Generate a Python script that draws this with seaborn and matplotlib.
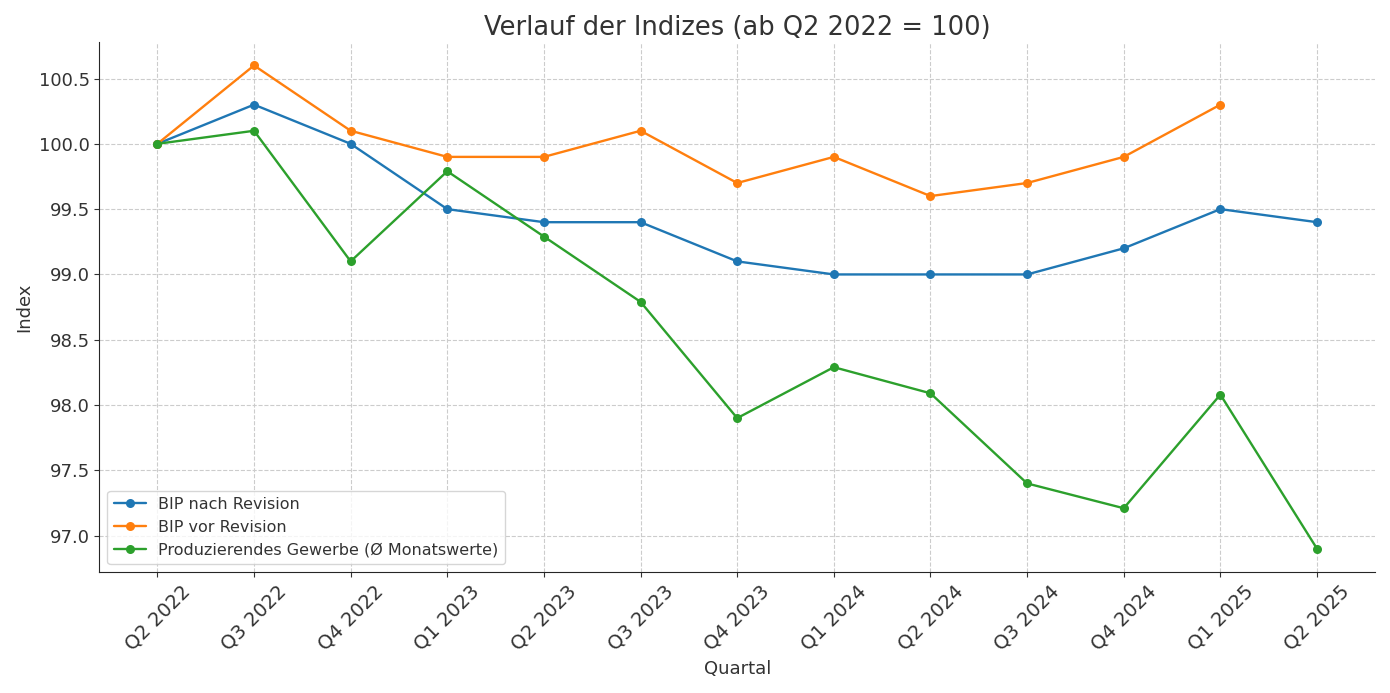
import pandas as pd
import numpy as np
import matplotlib
matplotlib.use("Agg")
import matplotlib.pyplot as plt
import seaborn as sns

# Daten
quartale = ["Q2 2022", "Q3 2022", "Q4 2022", "Q1 2023", "Q2 2023", "Q3 2023", "Q4 2023",
            "Q1 2024", "Q2 2024", "Q3 2024", "Q4 2024", "Q1 2025", "Q2 2025"]
bip_nach = [100.0, 100.3, 100.0, 99.5, 99.4, 99.4, 99.1, 99.0, 99.0, 99.0, 99.2, 99.5, 99.4]
bip_vor = [100.0, 100.6, 100.1, 99.9, 99.9, 100.1, 99.7, 99.9, 99.6, 99.7, 99.9, 100.3, np.nan]
prod_gewerbe = [100.0, 100.1, 99.1, 99.79, 99.29, 98.79, 97.9, 98.29, 98.09, 97.4, 97.21, 98.08, 96.9]

df = pd.DataFrame({
    "Quartal": quartale,
    "BIP nach Revision": bip_nach,
    "BIP vor Revision": bip_vor,
    "Produzierendes Gewerbe (Ø Monatswerte)": prod_gewerbe,
})
long = df.melt(id_vars="Quartal", var_name="Reihe", value_name="Index").dropna()

sns.set_style("ticks")
plt.rcParams["text.color"] = "#333333"
plt.rcParams["axes.labelcolor"] = "#333333"
plt.rcParams["xtick.color"] = "#333333"
plt.rcParams["ytick.color"] = "#333333"
plt.rcParams["font.family"] = ["DejaVu Sans"]

fig, ax = plt.subplots(figsize=(13.9, 6.93), dpi=100)

sns.lineplot(data=long, x="Quartal", y="Index", hue="Reihe", marker="o",
             markersize=6.5, markeredgewidth=0, linewidth=1.7, sort=False,
             palette=["#1f77b4", "#ff7f0e", "#2ca02c"], ax=ax)

ax.set_title("Verlauf der Indizes (ab Q2 2022 = 100)", fontsize=18.5, color="#333333", pad=5)
ax.set_xlabel("Quartal", fontsize=13)
ax.set_ylabel("Index", fontsize=13)
ax.tick_params(axis="x", labelrotation=45, labelsize=14)
ax.tick_params(axis="y", labelsize=13)
for lbl in ax.get_xticklabels():
    lbl.set_ha("center")
ax.set_yticks([97.0, 97.5, 98.0, 98.5, 99.0, 99.5, 100.0, 100.5])
ax.set_ylim(96.72, 100.78)
ax.set_xlim(-0.6, 12.6)
ax.grid(True, linestyle="--", color="#cccccc", linewidth=0.8)
sns.despine(ax=ax)

ax.legend(title=None, loc="lower left", fontsize=11.5, frameon=True)

plt.tight_layout()
plt.savefig("out.png", dpi=100)
